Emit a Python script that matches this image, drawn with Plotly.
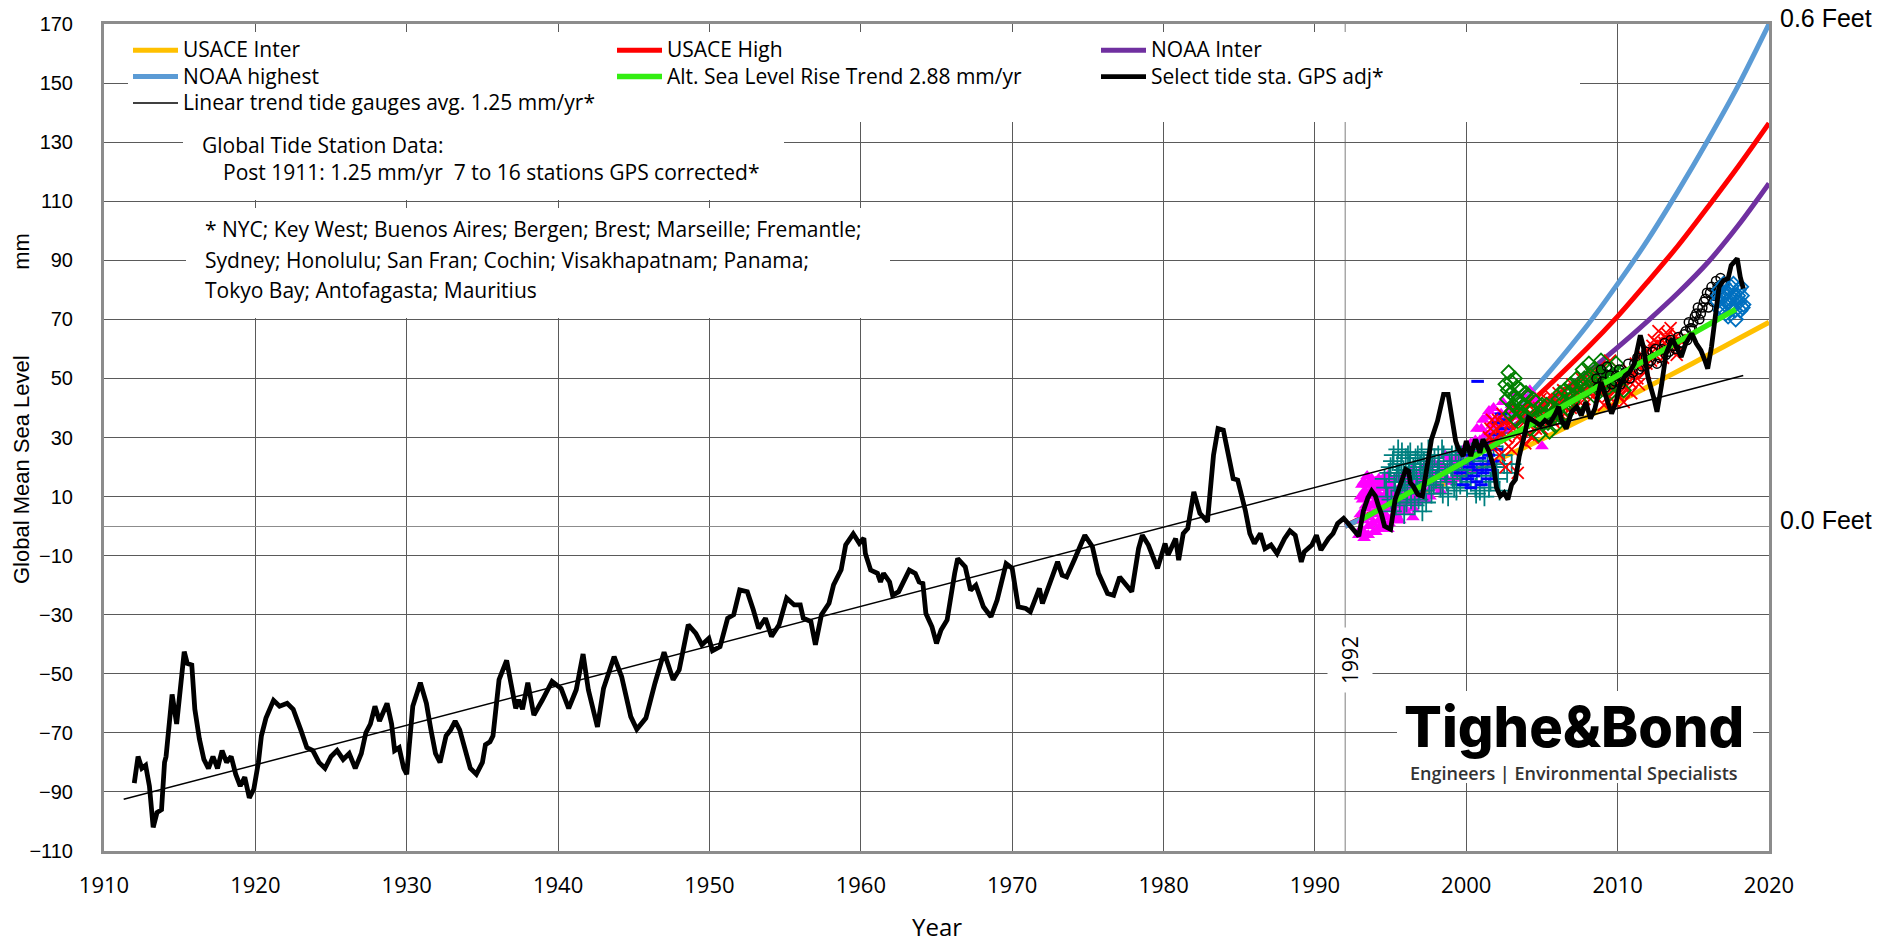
import plotly.graph_objects as go

# ---------------- DATA ----------------
# Select tide stations, GPS adjusted (black line)
tide_year = [1912.0, 1912.25, 1912.5, 1912.75, 1913.0, 1913.25, 1913.5, 1913.8, 1914.0, 1914.1, 1914.5, 1914.8,
             1915.3, 1915.5, 1915.8, 1916.0, 1916.3, 1916.6, 1916.9, 1917.2, 1917.5, 1917.8, 1918.1, 1918.4,
             1918.7, 1919.0, 1919.3, 1919.6, 1919.9, 1920.2, 1920.4, 1920.7, 1921.2, 1921.6, 1922.1, 1922.5,
             1923.0, 1923.4, 1923.8, 1924.2, 1924.6, 1925.0, 1925.4, 1925.8, 1926.2, 1926.6, 1927.0, 1927.3,
             1927.6, 1927.9, 1928.2, 1928.7, 1929.0, 1929.2, 1929.5, 1929.8, 1930.0, 1930.2, 1930.4, 1930.9,
             1931.3, 1931.6, 1931.9, 1932.2, 1932.6, 1932.9, 1933.2, 1933.5, 1933.8, 1934.2, 1934.6, 1935.0,
             1935.2, 1935.5, 1935.7, 1935.9, 1936.1, 1936.6, 1936.9, 1937.2, 1937.4, 1937.65, 1938.0, 1938.4,
             1938.97, 1939.6, 1940.2, 1940.7, 1941.2, 1941.65, 1942.0, 1942.6, 1943.0, 1943.7, 1944.2, 1944.8,
             1945.2, 1945.8, 1946.4, 1947.0, 1947.6, 1948.0, 1948.6, 1949.1, 1949.5, 1949.96, 1950.2, 1950.7,
             1951.2, 1951.6, 1952.0, 1952.5, 1952.9, 1953.25, 1953.7, 1954.1, 1954.6, 1955.1, 1955.6, 1956.0,
             1956.2, 1956.7, 1957.0, 1957.4, 1957.9, 1958.2, 1958.7, 1959.0, 1959.5, 1959.9, 1960.2, 1960.3,
             1960.65, 1961.1, 1961.3, 1961.5, 1961.9, 1962.1, 1962.5, 1963.2, 1963.6, 1963.85, 1964.1, 1964.3,
             1964.7, 1965.0, 1965.3, 1965.7, 1966.2, 1966.4, 1966.9, 1967.25, 1967.6, 1968.1, 1968.6, 1969.0,
             1969.6, 1970.0, 1970.4, 1970.9, 1971.2, 1971.8, 1972.0, 1972.5, 1973.0, 1973.3, 1973.6, 1974.1,
             1974.5, 1974.8, 1975.3, 1975.7, 1976.3, 1976.7, 1977.1, 1977.5, 1977.9, 1978.35, 1978.6, 1979.0,
             1979.6, 1980.1, 1980.3, 1980.8, 1981.0, 1981.3, 1981.6, 1982.0, 1982.4, 1982.9, 1983.3, 1983.6,
             1983.95, 1984.4, 1984.6, 1984.9, 1985.4, 1985.7, 1986.0, 1986.4, 1986.7, 1987.1, 1987.5, 1988.0,
             1988.35, 1988.7, 1988.9, 1989.1, 1989.3, 1989.8, 1990.1, 1990.4, 1990.9, 1991.2, 1991.5, 1991.9,
             1992.2, 1992.6, 1992.9, 1993.2, 1993.5, 1993.75, 1994.0, 1994.2, 1994.4, 1994.6, 1995.0, 1995.3,
             1995.6, 1996.0, 1996.2, 1996.3, 1996.5, 1996.8, 1997.1, 1997.4, 1997.7, 1998.1, 1998.5, 1998.8,
             1999.1, 1999.3, 1999.5, 1999.8, 2000.0, 2000.3, 2000.6, 2000.9, 2001.1, 2001.5, 2001.8, 2002.0,
             2002.25, 2002.5, 2002.75, 2003.0, 2003.25, 2003.5, 2003.8, 2004.1, 2004.4, 2004.9, 2005.2, 2005.5,
             2005.9, 2006.1, 2006.3, 2006.6, 2006.96, 2007.3, 2007.6, 2007.9, 2008.2, 2008.5, 2008.9, 2009.3,
             2009.6, 2009.9, 2010.15, 2010.5, 2010.8, 2011.1, 2011.5, 2011.7, 2012.0, 2012.4, 2012.6, 2012.9,
             2013.2, 2013.6, 2013.9, 2014.2, 2014.5, 2014.9, 2015.2, 2015.5, 2015.8, 2015.95, 2016.2, 2016.5,
             2016.7, 2017.0, 2017.3, 2017.5, 2017.9, 2018.1, 2018.3]
tide_mm = [-87, -78, -82, -81, -88, -102, -97, -96, -80, -78, -57, -67,
           -42.5, -46.5, -47, -62, -72, -79, -82, -78, -82, -76, -80, -78,
           -84, -88, -85, -92, -89, -80, -71, -65, -59, -61, -60, -62,
           -69, -75, -76, -80, -82, -78, -76, -79, -77, -82, -77, -70,
           -67, -61, -66, -60, -67, -76, -75, -82, -84, -72, -61, -53,
           -60, -69, -77, -80, -71, -69, -66, -69, -74, -82, -84, -80,
           -74, -73, -71, -63, -52, -45.5, -53, -61.7, -58.8, -62, -53, -64,
           -58.8, -52.6, -55, -61.7, -55.4, -43.3, -55.4, -68, -55, -44.2, -51, -64.5,
           -68.8, -65, -53.2, -42.7, -52, -48.7, -33.4, -36.3, -40.2, -38, -42.2, -40.8,
           -31.2, -30, -21.6, -22.2, -28.4, -34.6, -31.2, -37.4, -33.4, -24.4, -26.7, -26.7,
           -31.2, -32.3, -40.2, -30, -26.1, -19.9, -14.8, -6.4, -2.6, -5.8, -4.1, -9.3,
           -14.9, -16, -18.9, -16, -18.9, -23.4, -22.2, -14.9, -16, -18.9, -19.4, -29.6,
           -34.1, -39.7, -35.2, -31.8, -16, -11, -13.8, -21.7, -20, -27.3, -30.7, -25.1,
           -12.7, -14.3, -27.3, -27.9, -29, -21.1, -26.2, -18.9, -12.1, -16.6, -17.2, -11.5,
           -7, -3.1, -7, -16, -22.8, -23.4, -17.2, -19.4, -22.2, -7.6, -3.1, -6.4,
           -14.3, -5.9, -9.8, -4.2, -11.5, -2.5, -0.8, 11.6, 4.3, 1.5, 24, 33,
           32.5, 21.2, 16.1, 15.6, 5.4, -2.5, -5.9, -2.5, -7.6, -6.4, -9.3, -4.2,
           -1.6, -3.1, -7.6, -12.1, -8.7, -6.4, -3.1, -8.1, -4.2, -2.5, 0.9, 2.6,
           0.9, -1.4, -3.4, 5.1, 9.6, 11.9, 10.2, 6.8, 4, 0, -1.1, 9,
           13, 19.2, 18.6, 14.7, 13.5, 10.7, 10.2, 20.3, 29.4, 35.6, 44.6, 44.6,
           35, 28.8, 26, 23.7, 28.8, 23.7, 29.4, 24.8, 29.4, 25.4, 20.3, 13,
           10.2, 11.3, 9, 14.1, 15.8, 23.7, 29.9, 36.7, 35.8, 34.1, 35.8, 34.7,
           38.1, 40.4, 35.8, 33, 38.7, 40.4, 37.5, 42, 36.4, 39.8, 48.8, 42.6,
           38.1, 42, 47.7, 51, 52.2, 55, 64.6, 60.7, 50.5, 43.2, 38.7, 47.7,
           58.4, 63.5, 60.1, 57.3, 61.8, 65.2, 61.8, 59.5, 55.6, 53.3, 60.7, 72,
           81, 83.2, 83.8, 88.3, 90.6, 84.4, 80.4]

# Linear trend of tide gauges (thin black line), end points
trend_year = [1911.3, 2018.3]
trend_mm = [-92.5, 51.0]

# Altimetry trend 2.88 mm/yr (green), end points
alt_year = [1993.0, 2017.8]
alt_mm = [2.0, 73.4]

# Projection curves
proj_year = [1992, 1996, 2000, 2004, 2008, 2010, 2012, 2014, 2016, 2018, 2020]
usace_inter = [0, 8.6, 17.6, 27, 37, 42, 47.2, 52.5, 58, 63.5, 69]
usace_high = [0, 10.7, 24.3, 40.8, 60.3, 71, 82.8, 95, 108.3, 122, 136.4]
noaa_inter = [0, 10, 23, 37, 52, 60.5, 69.5, 79, 89.5, 102, 116]
noaa_highest = [0, 9.7, 24.3, 43.7, 68, 82, 97, 113.5, 131, 149.5, 170]

# Satellite altimetry scatter clouds
topex_year = [1992.9, 1993.0, 1993.05, 1993.15, 1993.2, 1993.3, 1993.4, 1993.5, 1993.55, 1993.65, 1993.75,
              1993.85, 1993.95, 1994.05, 1994.15, 1994.25, 1994.35, 1994.45, 1994.55, 1994.65, 1994.75, 1994.85,
              1994.95, 1995.05, 1995.2, 1995.35, 1995.5, 1995.65, 1995.8, 1995.95, 1996.1, 1996.25, 1996.4,
              1996.55, 1996.7, 1996.85, 1997.0, 1997.2, 1997.4, 1997.6, 1997.8, 1998.0, 1998.2, 1998.4, 1998.6,
              1998.8, 1999.0, 1999.2, 1999.4, 1999.6, 1999.8, 2000.0, 2000.2, 2000.4, 2000.6, 2000.8, 2001.0,
              2001.2, 2001.4, 2001.6, 2001.8, 2002.0, 2002.3, 2002.6, 2003.0, 2003.4, 2003.8, 2004.2, 2004.6, 2005.0,
              1993.1, 1993.25, 1993.35, 1993.45, 1993.6, 1993.7, 1993.9, 1994.0, 1994.1, 1994.2, 1994.3, 1994.4,
              1994.5, 1994.6, 1994.7, 1994.8, 1994.9, 1995.0, 1995.1, 1995.3, 1995.4, 1995.6, 1995.75, 1995.9,
              1996.0, 1996.2, 1996.35, 1996.5, 1996.65, 1996.8, 1997.1, 1997.3, 1997.5, 1997.7, 1997.9, 1998.1,
              1998.3, 1998.5, 1998.7, 1998.9, 1999.1, 1999.3, 1999.5, 1999.7, 1999.9, 2000.1, 2000.3, 2000.5,
              2000.7, 2000.9, 2001.1, 2001.3, 2001.5, 2001.7, 2001.9, 2002.1, 2002.4, 2002.8, 2003.2, 2003.6,
              1993.02, 1993.12, 1993.22, 1993.32, 1993.42, 1993.52, 1993.62, 1993.72, 1993.82, 1993.92, 1994.02,
              1994.12, 1994.22, 1994.32, 1994.42, 1994.52, 1994.62, 1994.72, 1994.82, 1994.92, 1995.12, 1995.27,
              1995.42, 1995.57, 1995.72, 1995.87, 1996.02, 1996.17, 1996.32, 1996.47, 1996.62, 1996.77]
topex_mm = [-3, 4, -1, 9, 2, 12, 6, 14, 0, 10, 16,
            4, 12, 7, 15, 2, 10, -1, 8, 13, 3, 11,
            6, 14, 9, 4, 16, 11, 7, 18, 13, 9, 19,
            14, 8, 17, 12, 20, 15, 10, 18, 14, 21, 17, 24,
            19, 15, 22, 18, 25, 21, 27, 23, 19, 29, 25, 33,
            28, 37, 31, 40, 35, 38, 33, 41, 37, 44, 46, 42, 27,
            14, -4, 7, 17, 3, 12, -2, 15, 5, 13, 0, 9,
            16, 4, 11, 17, 1, 10, 3, 12, 8, 2, 14, 9,
            5, 15, 11, 6, 17, 12, 16, 9, 19, 13, 21, 17,
            12, 20, 16, 23, 20, 16, 23, 19, 26, 21, 28, 24,
            33, 29, 36, 31, 39, 34, 30, 37, 42, 39, 45, 40,
            10, -2, 15, 3, 11, -3, 7, 14, 1, 8, -2,
            11, 16, 5, 13, 1, 9, 15, -1, 12, 6, 16,
            2, 10, 5, 13, 17, 8, 14, 3, 10, 15]

cross_year = [1994.6, 1994.8, 1995.0, 1995.1, 1995.2, 1995.3, 1995.4, 1995.5, 1995.6, 1995.7, 1995.8, 1995.9,
              1996.0, 1996.1, 1996.2, 1996.3, 1996.4, 1996.5, 1996.6, 1996.7, 1996.8, 1996.9, 1997.0, 1997.1,
              1997.2, 1997.3, 1997.5, 1997.6, 1997.7, 1997.9, 1998.0, 1998.2, 1998.3, 1998.5, 1998.6, 1998.8,
              1998.9, 1999.1, 1999.3, 1999.4, 1999.6, 1999.8, 2000.0, 2000.2, 2000.4, 2000.6, 2000.8, 2001.0,
              2001.2, 2001.4, 2001.6, 2001.8, 2002.0, 2002.2, 2002.4, 2002.7, 2003.0,
              1994.7, 1994.9, 1995.05, 1995.25, 1995.45, 1995.65, 1995.85, 1996.05, 1996.25, 1996.45, 1996.65,
              1996.85, 1997.05, 1997.25, 1997.45, 1997.65, 1997.85, 1998.1, 1998.4, 1998.7, 1999.0, 1999.2,
              1999.5, 1999.7, 2000.1, 2000.3, 2000.5, 2000.7, 2000.9, 2001.1, 2001.3, 2001.5, 2001.7, 2002.1,
              2002.5,
              1995.15, 1995.35, 1995.55, 1995.75, 1995.95, 1996.15, 1996.35, 1996.55, 1996.75, 1996.95, 1997.15,
              1997.35, 1997.55, 1997.75, 1998.15, 1998.45, 1998.75, 1999.05, 1999.35, 1999.65, 2000.05, 2000.35,
              2000.65]
cross_mm = [16, 10, 20, 5, 24, 13, 18, 26, 8, 21, 15, 4,
            23, 11, 18, 25, 14, 20, 7, 17, 24, 12, 19, 5,
            22, 15, 26, 18, 11, 23, 16, 21, 13, 24, 18, 10,
            22, 16, 25, 19, 14, 22, 17, 24, 20, 13, 26, 18,
            10, 22, 15, 27, 20, 12, 24, 18, 21,
            13, 18, 9, 15, 21, 12, 19, 8, 21, 16, 23,
            9, 25, 12, 20, 24, 14, 19, 26, 15, 20, 13,
            21, 17, 19, 15, 22, 18, 12, 21, 17, 13, 20, 16,
            21,
            22, 7, 17, 25, 13, 24, 9, 19, 14, 21, 17,
            8, 14, 20, 24, 11, 19, 24, 12, 24, 13, 25,
            11]

dash_year = [1999.6, 1999.8, 2000.0, 2000.1, 2000.2, 2000.3, 2000.4, 2000.5, 2000.6, 2000.7, 2000.75, 2000.8,
             2000.9, 2001.0, 2001.1, 2001.2, 2001.3, 2001.4, 2001.5, 2001.6, 2001.7, 2001.8, 2001.9, 2002.0,
             2002.1, 2002.2, 2002.3, 2002.5, 2002.7, 2003.0]
dash_mm = [18, 14, 22, 16, 20, 13, 24, 17, 21, 15, 49, 19,
           23, 14, 18, 26, 21, 16, 24, 19, 28, 22, 31, 26,
           35, 29, 38, 33, 36, 41]

xmark_year = [2001.5, 2001.7, 2001.9, 2002.0, 2002.2, 2002.4, 2002.6, 2002.7, 2002.9, 2003.0, 2003.2, 2003.4,
              2003.5, 2003.7, 2003.9, 2004.0, 2004.2, 2004.4, 2004.5, 2004.7, 2004.9, 2005.0, 2005.2, 2005.4,
              2005.6, 2005.8, 2006.0, 2006.2, 2006.4, 2006.6, 2006.8, 2007.0, 2007.2, 2007.4, 2007.6, 2007.8,
              2008.0, 2008.2, 2008.4, 2008.6, 2008.8, 2009.0, 2009.1, 2009.2, 2009.4, 2009.5, 2009.7, 2009.8,
              2010.0, 2010.1, 2010.3, 2010.4, 2010.6, 2010.7, 2010.9, 2011.0, 2011.2, 2011.4, 2011.6, 2011.8,
              2012.0, 2012.2, 2012.4, 2012.5, 2012.7, 2012.9, 2013.0, 2013.2, 2013.4, 2013.5, 2013.7, 2013.9,
              2014.1,
              2001.6, 2001.8, 2002.1, 2002.3, 2002.5, 2002.8, 2003.1, 2003.3, 2003.6, 2003.8, 2004.1, 2004.3,
              2004.6, 2004.8, 2005.1, 2005.3, 2005.5, 2005.7, 2005.9, 2006.1, 2006.3, 2006.5, 2006.7, 2006.9,
              2007.1, 2007.3, 2007.5, 2007.7, 2007.9, 2008.1, 2008.3, 2008.5, 2008.7, 2008.9, 2009.3, 2009.6,
              2009.9, 2010.2, 2010.5, 2010.8, 2011.1, 2011.3, 2011.5, 2011.7, 2011.9, 2012.1, 2012.3, 2012.6,
              2012.8, 2013.1, 2013.3, 2013.6, 2013.8, 2014.0]
xmark_mm = [30, 36, 27, 33, 24, 38, 20, 30, 35, 26, 40, 18,
            31, 37, 28, 42, 34, 30, 39, 36, 43, 33, 40, 37,
            44, 35, 41, 38, 46, 40, 43, 48, 41, 45, 50, 43,
            47, 52, 44, 49, 54, 46, 41, 51, 44, 56, 47, 42,
            50, 44, 48, 42, 46, 53, 45, 50, 55, 48, 58, 52,
            60, 56, 63, 58, 66, 61, 57, 64, 60, 67, 62, 58,
            63,
            33, 29, 36, 31, 35, 27, 33, 38, 29, 35, 31, 38,
            33, 40, 37, 43, 39, 36, 42, 45, 41, 38, 44, 40,
            46, 43, 47, 45, 49, 45, 48, 51, 46, 49, 47, 43,
            46, 51, 47, 49, 52, 50, 54, 56, 55, 58, 61, 62,
            59, 62, 65, 61, 64, 61]

diam_year = [2002.6, 2002.7, 2002.8, 2002.9, 2003.0, 2003.1, 2003.2, 2003.3, 2003.4, 2003.5, 2003.6, 2003.7,
             2003.8, 2003.9, 2004.0, 2004.2, 2004.3, 2004.5, 2004.6, 2004.8, 2004.9, 2005.1, 2005.3, 2005.5,
             2005.7, 2005.9, 2006.1, 2006.3, 2006.5, 2006.7, 2006.9, 2007.1, 2007.3, 2007.5, 2007.7, 2007.9,
             2008.1, 2008.3, 2008.5, 2008.7, 2008.9, 2009.1, 2009.3, 2009.5, 2009.7, 2009.9, 2010.1, 2010.4,
             2002.75, 2002.95, 2003.05, 2003.15, 2003.35, 2003.55, 2003.75, 2003.95, 2004.1, 2004.4, 2004.7,
             2005.0, 2005.2, 2005.4, 2005.6, 2005.8, 2006.0, 2006.2, 2006.4, 2006.6, 2006.8, 2007.0, 2007.2,
             2007.4, 2007.6, 2007.8, 2008.0, 2008.2, 2008.4, 2008.6, 2008.8, 2009.0, 2009.2, 2009.4, 2009.6,
             2009.8, 2010.0]
diam_mm = [48, 43, 52, 38, 45, 41, 50, 36, 43, 39, 46, 34,
           41, 37, 44, 33, 39, 36, 42, 31, 38, 35, 41, 32,
           38, 34, 43, 37, 46, 40, 48, 44, 50, 42, 53, 46,
           55, 49, 44, 52, 56, 48, 53, 45, 51, 55, 49, 46,
           46, 49, 39, 44, 47, 42, 38, 45, 40, 43, 37,
           41, 38, 35, 40, 37, 39, 45, 42, 38, 45, 42, 47,
           45, 48, 50, 47, 51, 53, 47, 50, 52, 49, 47, 53,
           48, 52]

circ_year = [2008.6, 2008.9, 2009.2, 2009.5, 2009.8, 2010.1, 2010.4, 2010.7, 2011.0, 2011.3, 2011.6, 2011.9,
             2012.2, 2012.5, 2012.8, 2013.1, 2013.4, 2013.7, 2014.0, 2014.3, 2014.5, 2014.7, 2014.9, 2015.1,
             2015.3, 2015.5, 2015.7, 2015.9, 2016.0, 2016.2, 2016.4, 2016.5, 2016.7, 2016.9,
             2008.7, 2009.0, 2009.3, 2009.6, 2009.9, 2010.2, 2010.5, 2010.8, 2011.1, 2011.4, 2011.7, 2012.0,
             2012.3, 2012.6, 2012.9, 2013.2, 2013.5, 2013.8, 2014.1, 2014.4, 2014.6, 2014.8, 2015.0, 2015.2,
             2015.4, 2015.6, 2015.8, 2016.1, 2016.3, 2016.6, 2016.8, 2017.0]
circ_mm = [50, 53, 47, 51, 49, 53, 50, 55, 52, 57, 54, 59,
           56, 60, 57, 62, 59, 61, 64, 62, 66, 69, 67, 71,
           74, 72, 76, 79, 74, 81, 78, 83, 80, 82,
           47, 49, 54, 48, 51, 48, 52, 50, 55, 53, 57, 55,
           59, 55, 60, 58, 63, 60, 62, 65, 63, 67, 69, 72,
           70, 74, 77, 79, 76, 81, 84, 82]

bdiam_year = [2016.6, 2016.7, 2016.8, 2016.9, 2017.0, 2017.1, 2017.2, 2017.3, 2017.4, 2017.5, 2017.6, 2017.7,
              2017.8, 2017.9, 2018.0, 2018.1, 2018.2, 2018.3,
              2016.65, 2016.85, 2017.05, 2017.15, 2017.35, 2017.45, 2017.65, 2017.75, 2017.95, 2018.05,
              2018.15, 2018.25]
bdiam_mm = [76, 80, 73, 78, 82, 75, 79, 71, 77, 81, 74, 78,
            70, 76, 80, 73, 78, 75,
            78, 74, 79, 72, 80, 75, 82, 73, 78, 76,
            81, 74]

x_ticks = [1910, 1920, 1930, 1940, 1950, 1960, 1970, 1980, 1990, 2000, 2010, 2020]

legend_names = ["USACE Inter", "USACE High", "NOAA Inter", "NOAA highest",
                "Alt. Sea Level Rise Trend 2.88 mm/yr", "Select tide sta. GPS adj*",
                "Linear trend tide gauges avg. 1.25 mm/yr*"]

note_lines = ["* NYC; Key West; Buenos Aires; Bergen; Brest; Marseille; Fremantle;",
              "Sydney; Honolulu; San Fran; Cochin; Visakhapatnam; Panama;",
              "Tokyo Bay; Antofagasta; Mauritius"]

# ---------------- LAYOUT HELPERS ----------------
W, H = 1880, 943
PL, PR, PT, PB = 104, 1769, 24, 851


def xp(px):
    return (px - PL) / (PR - PL)


def yp(py):
    return (PB - py) / (PB - PT)


def big(name):
    # legend rows are spaced for an 18px font while the text is shown at 21px
    return '<span style="font-size:21px">' + name + '</span>'


TXT = "Open Sans, Liberation Sans, Arial, sans-serif"
ARI = "Liberation Sans, Arial, sans-serif"

fig = go.Figure()

# projection curves (drawn beneath the data clouds)
curves = [(legend_names[0], usace_inter, "#FFC000", 1),
          (legend_names[1], usace_high, "#FF0000", 2),
          (legend_names[2], noaa_inter, "#7030A0", 3),
          (legend_names[3], noaa_highest, "#5B9BD5", 4)]
for nm, vals, col, rk in curves:
    fig.add_trace(go.Scatter(x=proj_year, y=vals, mode="lines", name=big(nm), legendrank=rk,
                             line=dict(color=col, width=5, shape="spline", smoothing=0.8)))

# scatter clouds
clouds = [(topex_year, topex_mm, "triangle-up", "#FF00FF", 12, 0),
          (cross_year, cross_mm, "cross-thin-open", "#008080", 14, 1.8),
          (dash_year, dash_mm, "line-ew-open", "#0000FF", 9, 3),
          (xmark_year, xmark_mm, "x-thin-open", "#FF0000", 12, 1.8),
          (diam_year, diam_mm, "diamond-open", "#008000", 11, 1.8),
          (circ_year, circ_mm, "circle-open", "#000000", 9, 1.5),
          (bdiam_year, bdiam_mm, "diamond-open", "#0070C0", 11, 1.8)]
for xs, ys, sym, col, sz, lw in clouds:
    mk = dict(symbol=sym, color=col, size=sz)
    if lw:
        mk["line"] = dict(color=col, width=lw)
    fig.add_trace(go.Scatter(x=xs, y=ys, mode="markers", marker=mk, showlegend=False, hoverinfo="skip"))

fig.add_trace(go.Scatter(x=alt_year, y=alt_mm, mode="lines", name=big(legend_names[4]), legendrank=5,
                         line=dict(color="#33EE11", width=5.5)))
fig.add_trace(go.Scatter(x=trend_year, y=trend_mm, mode="lines", name=big(legend_names[6]), legendrank=7,
                         line=dict(color="#000000", width=1.5)))
fig.add_trace(go.Scatter(x=tide_year, y=tide_mm, mode="lines", name=big(legend_names[5]), legendrank=6,
                         line=dict(color="#000000", width=4.8)))

shapes = [
    dict(type="line", xref="x", yref="paper", x0=1992, x1=1992, y0=0, y1=1,
         line=dict(color="#7f7f7f", width=1), layer="below"),
    dict(type="rect", xref="paper", yref="paper", x0=xp(183), x1=xp(784), y0=yp(200), y1=yp(120),
         fillcolor="white", line=dict(width=0), layer="above"),
    dict(type="rect", xref="paper", yref="paper", x0=xp(186), x1=xp(890), y0=yp(318), y1=yp(208),
         fillcolor="white", line=dict(width=0), layer="above"),
    dict(type="rect", xref="paper", yref="paper", x0=xp(1397), x1=xp(1753), y0=yp(783), y1=yp(691),
         fillcolor="white", line=dict(width=0), layer="above"),
]

NB = "\u00a0"
anns = [
    dict(x=xp(21), y=yp(409), text="Global Mean Sea Level" + NB * 14 + "mm", textangle=-90,
         font=dict(family=ARI, size=22, color="#000")),
    dict(x=xp(936.5), y=yp(927), text="Year", font=dict(family=TXT, size=24, color="#000")),
    dict(x=xp(1778), y=yp(18), text="0.6 Feet", xanchor="left", font=dict(family=ARI, size=25, color="#000")),
    dict(x=xp(1778), y=yp(520), text="0.0 Feet", xanchor="left", font=dict(family=ARI, size=25, color="#000")),
    dict(x=xp(1350), y=yp(660), text="1992", textangle=-90, bgcolor="white", borderpad=8,
         font=dict(family=TXT, size=21, color="#000")),
    dict(x=xp(200), y=yp(145), text="Global Tide Station Data:", xanchor="left",
         font=dict(family=TXT, size=21, color="#000")),
    dict(x=xp(221), y=yp(172), text="Post 1911: 1.25 mm/yr" + NB * 2 + "7 to 16 stations GPS corrected*",
         xanchor="left", font=dict(family=TXT, size=21, color="#000")),
    dict(x=xp(1574), y=yp(727), text="Tighe&Bond",
         font=dict(family="Inter, Roboto, sans-serif", size=56, color="#000", weight=800)),
    dict(x=xp(1574), y=yp(773), text="Engineers | Environmental Specialists",
         font=dict(family="Open Sans, sans-serif", size=18, color="#333", weight=600)),
]
for i, ln in enumerate(note_lines):
    anns.append(dict(x=xp(203), y=yp(229 + 30.5 * i), text=ln, xanchor="left",
                     font=dict(family=TXT, size=21, color="#000")))
for a in anns:
    a.setdefault("xref", "paper")
    a.setdefault("yref", "paper")
    a.setdefault("xanchor", "center")
    a.setdefault("yanchor", "middle")
    a.setdefault("showarrow", False)

fig.update_layout(
    width=W, height=H,
    margin=dict(l=PL, r=W - PR, t=PT, b=H - PB, pad=0),
    paper_bgcolor="white", plot_bgcolor="white",
    showlegend=True,
    legend=dict(orientation="h", x=xp(128), y=yp(32), xanchor="left", yanchor="top",
                entrywidth=424, entrywidthmode="pixels", itemwidth=45,
                bgcolor="white", borderwidth=0,
                font=dict(family=TXT, size=18, color="#000"), traceorder="normal"),
    xaxis=dict(range=[1910, 2020], tickmode="array", tickvals=x_ticks,
               showgrid=True, gridcolor="#5a5a5a", gridwidth=1,
               showline=True, linecolor="#8c8c8c", linewidth=3, mirror=True,
               ticks="", zeroline=False, ticklabelstandoff=13,
               tickfont=dict(family=TXT, size=22, color="#000")),
    yaxis=dict(range=[-110, 170], tickmode="linear", tick0=-110, dtick=20,
               showgrid=True, gridcolor="#5a5a5a", gridwidth=1,
               showline=True, linecolor="#8c8c8c", linewidth=3, mirror=True,
               ticks="", zeroline=True, zerolinecolor="#8c8c8c", zerolinewidth=1,
               ticklabelstandoff=24,
               tickfont=dict(family=ARI, size=20, color="#000")),
    shapes=shapes,
    annotations=anns,
)

fig.write_html("out.html", config={"displayModeBar": False},
               post_script="document.body.style.margin='0';document.body.style.overflow='hidden';")
